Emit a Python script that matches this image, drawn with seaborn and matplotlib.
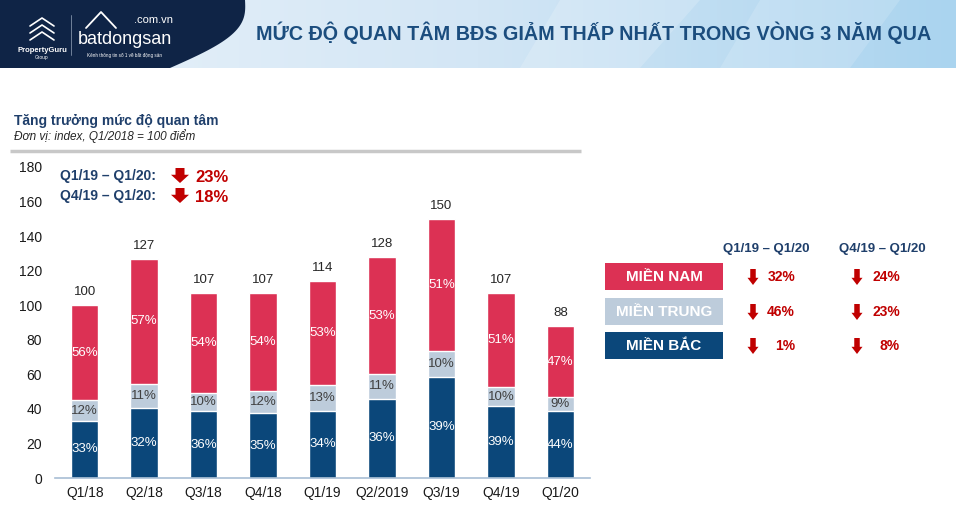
import numpy as np
import matplotlib
matplotlib.use("Agg")
import matplotlib.pyplot as plt
from matplotlib.patches import Polygon, Rectangle
import seaborn as sns

# ---- data -------------------------------------------------------------
quarters = ["Q1/18", "Q2/18", "Q3/18", "Q4/18", "Q1/19", "Q2/2019", "Q3/19", "Q4/19", "Q1/20"]
totals = [100, 127, 107, 107, 114, 128, 150, 107, 88]
bac = [33, 40.6, 38.5, 37.5, 38.8, 46, 58.5, 41.7, 38.7]     # Miền Bắc segment
trung = [12, 14, 10.7, 12.8, 14.8, 14, 15, 10.7, 7.9]        # Miền Trung segment
pct_nam = ["56%", "57%", "54%", "54%", "53%", "53%", "51%", "51%", "47%"]
pct_trung = ["12%", "11%", "10%", "12%", "13%", "11%", "10%", "10%", "9%"]
pct_bac = ["33%", "32%", "36%", "35%", "34%", "36%", "39%", "39%", "44%"]

regions = ["MIỀN NAM", "MIỀN TRUNG", "MIỀN BẮC"]
chg_yoy = ["32%", "46%", "1%"]
chg_qoq = ["24%", "23%", "8%"]
periods = ["Q1/19 – Q1/20", "Q4/19 – Q1/20"]
overall = ["23%", "18%"]

RED = "#DC3154"
LIGHT = "#BDCCDB"
NAVY = "#0B477A"
TXT_NAVY = "#1F3F6B"
TXT_RED = "#C00000"

sns.set_style("white")
plt.rcParams["font.family"] = ["Liberation Sans", "DejaVu Sans"]

fig = plt.figure(figsize=(9.56, 5.22), dpi=100)

# ---- background / header (pixel coordinates) ----------------------------
bg = fig.add_axes([0, 0, 1, 1], zorder=0)
bg.set_xlim(0, 956); bg.set_ylim(522, 0); bg.axis("off")

grad = np.linspace(0, 1, 256).reshape(1, -1)
cmap = matplotlib.colors.LinearSegmentedColormap.from_list("hdr", ["#E9F2FA", "#D3E6F5", "#AAD4EF"])
bg.imshow(grad, extent=(0, 956, 68, 0), aspect="auto", cmap=cmap, zorder=0)
bg.add_patch(Polygon([(560, 0), (700, 0), (640, 68), (520, 68)], closed=True, color="white", alpha=0.18, lw=0, zorder=1))
bg.add_patch(Polygon([(760, 0), (900, 0), (850, 68), (720, 68)], closed=True, color="white", alpha=0.15, lw=0, zorder=1))

t = np.linspace(0, 1, 40)
curve = [(245 - 75 * tt + 25 * np.sin(np.pi * tt), 68 * tt) for tt in t]
bg.add_patch(Polygon([(0, 0)] + curve + [(0, 68)], closed=True, color="#0F2446", lw=0, zorder=2))

# logos
bg.text(42, 50, "PropertyGuru", color="white", fontsize=5.5, fontweight="bold", ha="center", va="center", zorder=3)
bg.text(42, 57, "Group", color="white", fontsize=3.5, ha="center", va="center", zorder=3)
for dy in (0, 7, 14):
    bg.plot([30, 42, 54], [40 - dy, 32 - dy, 40 - dy], color="white", lw=1.2, zorder=3)
bg.plot([71, 71], [15, 55], color="#8090A8", lw=0.6, zorder=3)
bg.plot([86, 101, 116], [28, 12, 28], color="white", lw=1.3, zorder=3)
bg.text(125, 40, "batdongsan", color="white", fontsize=13, ha="center", va="center", zorder=3,
        family=["Liberation Sans Narrow", "Liberation Sans"])
bg.text(154, 20, ".com.vn", color="white", fontsize=8, ha="center", va="center", zorder=3)
bg.text(125, 55, "Kênh thông tin số 1 về bất động sản", color="white", fontsize=3.3, ha="center", va="center", zorder=3)

bg.text(594, 33, "MỨC ĐỘ QUAN TÂM BĐS GIẢM THẤP NHẤT TRONG VÒNG 3 NĂM QUA",
        color="#1B4D7E", fontsize=14.2, fontweight="bold", ha="center", va="center", zorder=3)

# subtitle block
bg.text(14, 121, "Tăng trưởng mức độ quan tâm", color=TXT_NAVY, fontsize=10, fontweight="bold", va="center")
bg.text(14, 136, "Đơn vị: index, Q1/2018 = 100 điểm", color="#262626", fontsize=8.5, style="italic", va="center")
bg.plot([10, 581], [151, 151], color="#C8C8C8", lw=2.5, solid_capstyle="butt")


def down_arrow(x, y, w, h, shaft=0.45, head=0.5):
    """block arrow, top-centre at (x, y) in pixel coords"""
    sw = w * shaft / 2
    hy = y + h * (1 - head)
    pts = [(x - sw, y), (x + sw, y), (x + sw, hy), (x + w / 2, hy), (x, y + h),
           (x - w / 2, hy), (x - sw, hy)]
    bg.add_patch(Polygon(pts, closed=True, color=TXT_RED, lw=0, zorder=3))


for i, (lab, val) in enumerate(zip(periods, overall)):
    yy = 176 + 20 * i
    bg.text(60, yy, lab + ":", color=TXT_NAVY, fontsize=10, fontweight="bold", va="center")
    down_arrow(180, yy - 8, 18, 15, shaft=0.5, head=0.55)
    bg.text(195, yy + 1, val, color=TXT_RED, fontsize=12, fontweight="bold", va="center")

# ---- right-hand table ---------------------------------------------------
for j, lab in enumerate(periods):
    bg.text(766 + 116 * j, 249, lab, color=TXT_NAVY, fontsize=9.5, fontweight="bold", ha="center", va="center")

box_cols = [RED, LIGHT, NAVY]
box_y = [263, 298, 332]
for reg, c, y0, a, b in zip(regions, box_cols, box_y, chg_yoy, chg_qoq):
    bg.add_patch(Rectangle((605, y0), 118, 27, color=c, lw=0, zorder=2))
    bg.text(664, y0 + 14, reg, color="white", fontsize=11, fontweight="bold", ha="center", va="center", zorder=3)
    down_arrow(753, y0 + 6, 11, 16, shaft=0.5, head=0.45)
    bg.text(795, y0 + 14, a, color=TXT_RED, fontsize=10, fontweight="bold", ha="right", va="center")
    down_arrow(857, y0 + 6, 11, 16, shaft=0.5, head=0.45)
    bg.text(900, y0 + 14, b, color=TXT_RED, fontsize=10, fontweight="bold", ha="right", va="center")

# ---- stacked bar chart --------------------------------------------------
ax = fig.add_axes([55 / 956, 1 - 478 / 522, 535 / 956, (478 - 167) / 522], zorder=1)
ax.patch.set_alpha(0)

tot = np.array(totals, dtype=float)
b = np.array(bac)
tr = np.array(trung)
mid = b + tr

sns.barplot(x=quarters, y=tot, color=RED, width=0.46, saturation=1, ax=ax)
sns.barplot(x=quarters, y=mid, color=LIGHT, width=0.46, saturation=1, ax=ax)
sns.barplot(x=quarters, y=b, color=NAVY, width=0.46, saturation=1, ax=ax)

for i in range(len(quarters)):
    ax.text(i, b[i] / 2, pct_bac[i], color="white", fontsize=9.5, ha="center", va="center")
    ax.text(i, b[i] + tr[i] / 2, pct_trung[i], color="#404040", fontsize=9.5, ha="center", va="center")
    ax.text(i, (mid[i] + tot[i]) / 2, pct_nam[i], color="white", fontsize=9.5, ha="center", va="center")
    ax.annotate(str(totals[i]), (i, tot[i]), xytext=(0, 5), textcoords="offset points",
                color="#262626", fontsize=9.5, ha="center", va="bottom")

ax.set_xlim(-0.5, len(quarters) - 0.5)
ax.set_ylim(0, 180)
ax.set_yticks(np.arange(0, 181, 20))
ax.set_xlabel(""); ax.set_ylabel("")
for s in ("top", "right", "left"):
    ax.spines[s].set_visible(False)
ax.spines["bottom"].set_color("#A8BED4")
ax.spines["bottom"].set_linewidth(1.2)
ax.tick_params(axis="both", length=0, labelsize=10, colors="#1A1A1A")
ax.tick_params(axis="y", pad=9.5)
ax.tick_params(axis="x", pad=6)
ax.set_xticks(np.arange(-0.5, len(quarters), 1), minor=True)
ax.tick_params(axis="x", which="minor", length=5, color="#A8BED4", width=1)

fig.savefig("out.png", dpi=100)
